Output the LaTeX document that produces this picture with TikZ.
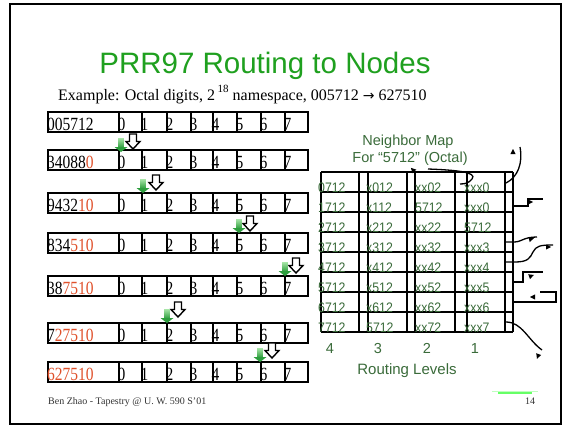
\documentclass[tikz,border=0pt]{standalone}
\usepackage{fontspec}
\setmainfont{Liberation Serif}
\newfontfamily\sansf{Liberation Sans}
\newfontfamily\symf{DejaVu Sans}
\usepackage{graphicx}
\usetikzlibrary{arrows.meta}
\definecolor{titlegreen}{HTML}{1FA01F}
\definecolor{mapgreen}{HTML}{3A6B3A}
\definecolor{hopred}{HTML}{E0502A}
\definecolor{glight}{HTML}{A8E6A8}
\definecolor{gdark}{HTML}{2E9E3E}
\definecolor{footgreen}{HTML}{66FF66}
\newcommand\greenhop[2]{%
  \shade[top color=glight,bottom color=gdark] (#1-2.8,#2-14) rectangle (#1+2.8,#2-4.5);
  \fill[gdark] (#1-6.5,#2-5) -- (#1+6.5,#2-5) -- (#1,#2) -- cycle;}
\newcommand\hollowhop[2]{%
  \draw[line width=1.4pt,fill=white,line join=miter]
    (#1-3.5,#2-15) -- (#1+3.5,#2-15) -- (#1+3.5,#2-7.5) -- (#1+7,#2-7.5) -- (#1,#2)
    -- (#1-7,#2-7.5) -- (#1-3.5,#2-7.5) -- cycle;}
\newcommand\tri[3]{%
  \fill[rotate around={#3:(#1,#2)}] (#1+3,#2) -- (#1-2,#2+2.6) -- (#1-2,#2-2.6) -- cycle;}
\newcommand\vs[1]{\scalebox{1}[1.2]{#1}}
\newcommand\vc[1]{\scalebox{1}[1.12]{#1}}
\tikzset{
  rowbox/.style={draw=black,line width=1.5pt},
  rowline/.style={draw=black,line width=1.3pt},
  lbl/.style={anchor=base west,inner sep=0pt,font=\fontsize{15.5}{15.5}\selectfont},
  dig/.style={anchor=base,inner sep=0pt,font=\fontsize{15.5}{15.5}\selectfont},
  gridline/.style={draw=black,line width=1.4pt},
  cell/.style={anchor=base west,inner sep=0pt,text=mapgreen,font=\sansf\fontsize{12.3}{12}\selectfont},
  maptext/.style={inner sep=0pt,text=mapgreen,font=\sansf\fontsize{14.5}{17}\selectfont,align=center},
  route/.style={draw=black,line width=1.3pt},
}
\begin{document}
\begin{tikzpicture}[x=1pt,y=-1pt]
\useasboundingbox (0,0) rectangle (570,426);
\fill[white] (0,0) rectangle (570,426);
\draw[line width=2pt] (10,4) rectangle (561,424);
% title
\node[inner sep=0pt,text=titlegreen,font=\sansf\fontsize{29.5}{30}\selectfont,anchor=base] (title) at (265,73) {PRR97 Routing to Nodes};
\node[inner sep=0pt,anchor=base west,font=\fontsize{16}{16}\selectfont] (example) at (58,100)
  {Example: Octal digits, 2\,\raisebox{0.45em}{\fontsize{11}{11}\selectfont 18} namespace, 005712 {\symf\fontsize{14}{14}\selectfont →} 627510};
% rows
\foreach \t/\blk/\red [count=\i] in {112/005712/, 150/34088/0, 193/9432/10, 233/834/510, 276/38/7510, 323/7/27510, 362//627510} {
  \draw[rowbox] (48,\t) rectangle (308,\t+20);
  \foreach \d in {119,142,167,191,213,237,261,285} \draw[rowline] (\d,\t) -- (\d,\t+20);
  \node[lbl] (r\i) at (47,\t+18) {\vs{\blk\textcolor{hopred}{\red}}};
  \foreach \x [count=\k from 0] in {119,142,167,191,213,237,261,285}
    \node[dig] (d\i\k) at (\x+2.5,\t+18) {\vs{\k}};
}
% hop arrows
\hollowhop{133}{149}\greenhop{121}{152}
\hollowhop{156}{190}\greenhop{143}{193}
\hollowhop{250}{231}\greenhop{239}{233}
\hollowhop{296}{273}\greenhop{285}{276}
\hollowhop{178}{317}\greenhop{167}{323}
\hollowhop{272}{358}\greenhop{260}{362}
% neighbor map
\node[maptext,anchor=base] (maptitle) at (408,145) {Neighbor Map};
\node[maptext,anchor=base] (mapfor) at (410,162) {For “5712” (Octal)};
\foreach \x in {321,359,368,407,415,455,467,505,513} \draw[gridline] (\x,172) -- (\x,332);
\foreach \y in {172,192,...,332} \draw[gridline] (321,\y) -- (513,\y);
\foreach \a/\b/\c/\d [count=\r from 0] in {0712/x012/xx02/xxx0, 1712/x112/5712/xxx0, 2712/x212/xx22/5712, 3712/x312/xx32/xxx3, 4712/x412/xx42/xxx4, 5712/x512/xx52/xxx5, 6712/x612/xx62/xxx6, 7712/5712/xx72/xxx7} {
  \node[cell] (ca\r) at (318,192+20*\r) {\vc{\a}};
  \node[cell] (cb\r) at (366,192+20*\r) {\vc{\b}};
  \node[cell] (cc\r) at (415,192+20*\r) {\vc{\c}};
  \node[cell] (cd\r) at (464,192+20*\r) {\vc{\d}};
}
\node[maptext,anchor=base] (l4) at (330,353) {4};
\node[maptext,anchor=base] (l3) at (378,353) {3};
\node[maptext,anchor=base] (l2) at (427,353) {2};
\node[maptext,anchor=base] (l1) at (475,353) {1};
\node[maptext,anchor=base,font=\sansf\fontsize{15}{15}\selectfont] (levels) at (407,374) {Routing Levels};
% routes out of the map
\draw[route] (428,169) .. controls (455,170) and (478,172) .. (472,179) .. controls (469,183) and (465,184) .. (460,184);
\tri{413}{170}{135}
\draw[route] (506,183) .. controls (518,177) and (523,163) .. (520,147);
\tri{513}{152}{90}
\draw[route] (513,206) -- (528,206) -- (528,199) -- (543,199);
\tri{530}{202}{0}
\draw[route] (505,242) -- (514,242) .. controls (522,242) and (523,237) .. (537,237);
\tri{531}{239}{15}
\draw[route] (505,262) -- (515,262) .. controls (528,262) and (530,258) .. (533,252) .. controls (536,246) and (540,245) .. (553,245);
\tri{548}{247}{0}
\draw[route] (513,282) -- (523,282) -- (523,272) -- (543,272);
\tri{531}{276}{20}
\draw[route] (513,302) -- (556,302) -- (556,292) -- (540,292);
\tri{533}{297}{180}
\draw[route] (506,322) .. controls (522,322) and (528,340) .. (542,350);
\tri{538}{356}{250}
% footer
\node[inner sep=0pt,anchor=base west,font=\fontsize{10}{10}\selectfont,text=black!80] (foot) at (48,404) {Ben Zhao - Tapestry @ U. W. 590 S'01};
\node[inner sep=0pt,anchor=base,font=\fontsize{10}{10}\selectfont,text=black!80] (page) at (530,404) {14};
\draw[green!25,line width=0.6pt] (492,391) -- (538,391);
\draw[footgreen,line width=2pt] (498,393) -- (532,393);
\end{tikzpicture}
\end{document}
